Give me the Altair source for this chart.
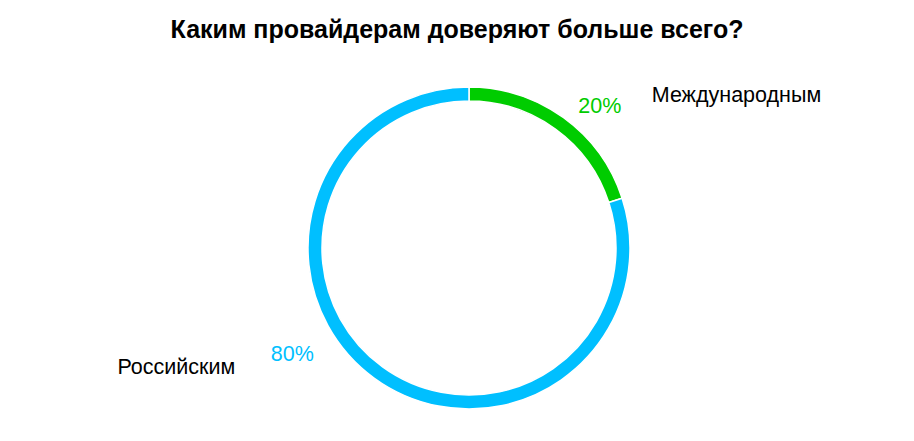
import altair as alt
import pandas as pd

categories = ["Международным", "Российским"]
values = [20, 80]
pct_labels = ["20%", "80%"]
colors = ["#00CC00", "#00BFFF"]
order = [0, 1]

df = pd.DataFrame({"category": categories, "value": values, "pct": pct_labels, "order": order})

CX, CY = 461, 190
FONT = "Liberation Sans"

base = alt.Chart(df)

color_enc = alt.Color("category:N", scale=alt.Scale(domain=categories, range=colors), legend=None)

arc = base.mark_arc(outerRadius=161, innerRadius=147, stroke="white", strokeWidth=1.5).encode(
    theta=alt.Theta("value:Q", stack=True),
    color=color_enc,
    order=alt.Order("order:Q"),
    x=alt.value(CX), y=alt.value(CY),
)

lab = base.transform_joinaggregate(total="sum(value)").transform_window(
    cum="sum(value)", sort=[alt.SortField("order")]
).transform_calculate(mid="(datum.cum - datum.value/2)/datum.total*2*PI")

def txt(cat, field, colored, align, dx, dy):
    enc = dict(
        theta=alt.Theta("mid:Q", scale=None),
        text=alt.Text(f"{field}:N"),
        x=alt.value(CX), y=alt.value(CY),
    )
    if colored:
        enc["color"] = color_enc
    else:
        enc["color"] = alt.value("#000000")
    return lab.transform_filter(alt.datum.category == cat).mark_text(
        radius=185, font=FONT, fontSize=21.5, align=align, baseline="middle", dx=dx, dy=dy
    ).encode(**enc)

layers = [
    arc,
    txt("Международным", "pct", True, "center", 22, 9),
    txt("Международным", "category", False, "left", 74, -2),
    txt("Российским", "pct", True, "center", -68, -43),
    txt("Российским", "category", False, "right", -125, -30),
]

chart = alt.layer(*layers).properties(
    width=898, height=375,
    padding={"left": 0, "top": 50, "right": 0, "bottom": 0},
    autosize=alt.AutoSizeParams(type="none"),
    title=alt.TitleParams(
        "Каким провайдерам доверяют больше всего?",
        font=FONT, fontSize=25, fontWeight="bold", anchor="middle", color="#000000",
        offset=15,
    ),
).configure_view(stroke=None)

chart.save("out.html", embed_options={"renderer": "svg", "actions": False})
